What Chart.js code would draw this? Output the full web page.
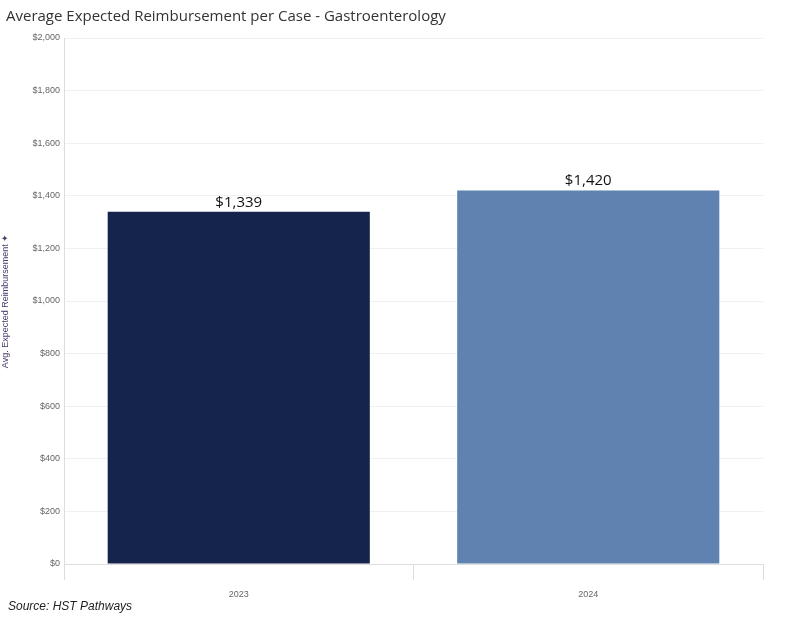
<!DOCTYPE html>
<html><head><meta charset="utf-8">
<script src="https://cdn.jsdelivr.net/npm/chart.js@4"></script>
<style>
body{margin:0;background:#fff;font-family:"Open Sans",Arial,sans-serif;}
#wrap{position:relative;width:800px;height:619px;}
#title{position:absolute;left:6px;top:5px;font-size:15px;color:#333;}
#src{position:absolute;left:8px;top:599px;font-size:12px;font-style:italic;color:#222;font-family:Arial,"Liberation Sans",sans-serif;}
canvas{position:absolute;left:0;top:0;}
</style></head><body>
<div id="wrap">
<canvas id="c" width="800" height="619"></canvas>
<div id="title">Average Expected Reimbursement per Case - Gastroenterology</div>
<div id="src">Source: HST Pathways</div>
</div>
<script>
const categories=["2023","2024"];
const values=[1339,1420];
const colors=["#15244c","#5f82b0"];
const labelPlugin={id:'lbl',afterDatasetsDraw(ch){const ctx=ch.ctx;const m=ch.getDatasetMeta(0);ctx.save();ctx.font='15px "Open Sans",Arial';ctx.fillStyle='#111';ctx.textAlign='center';ctx.textBaseline='bottom';m.data.forEach((b,i)=>{ctx.fillText('$'+values[i].toLocaleString('en-US'),b.x,b.y-2);});ctx.restore();}};
new Chart(document.getElementById('c'),{type:'bar',
data:{labels:categories,datasets:[{data:values,backgroundColor:colors,categoryPercentage:0.75,barPercentage:1}]},
options:{responsive:false,animation:false,
layout:{padding:{top:38,right:37,left:0,bottom:0}},
plugins:{legend:{display:false},tooltip:{enabled:false}},
scales:{
y:{min:0,max:2000,ticks:{stepSize:200,font:{size:9},color:'#666',padding:4,callback:v=>'$'+v.toLocaleString('en-US')},
grid:{color:'#f0f0f0',drawTicks:false},border:{display:true,color:'#ddd'},
title:{display:true,text:'Avg. Expected Reimbursement ✦',font:{size:9},color:'#4a3a6a',padding:0},
afterFit(s){s.width=64;}},
x:{ticks:{font:{size:9},color:'#666',padding:9},grid:{color:'#ddd',offset:true,tickLength:16,drawOnChartArea:false},border:{color:'#ddd'},
afterFit(s){s.height=55;}}
}},plugins:[labelPlugin]});
</script>
</body></html>
